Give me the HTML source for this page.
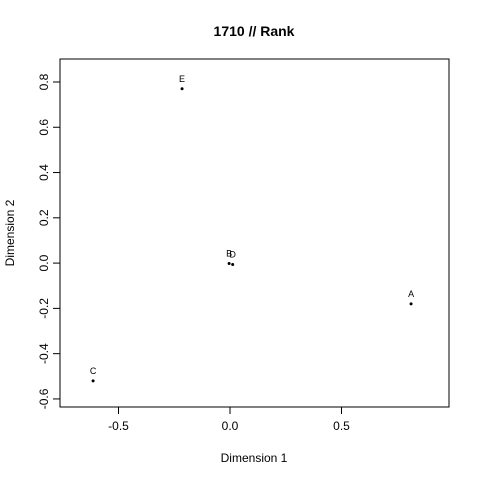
<!DOCTYPE html>
<html><head><meta charset="utf-8"><style>body{margin:0;background:#fff}svg{display:block}text{font-family:"Liberation Sans",Arial,sans-serif}</style></head>
<body>
<svg id="c" width="480" height="480"></svg>
<script>
const labels=["A","B","C","D","E"];
const xVals=[0.812,-0.004,-0.614,0.012,-0.215];
const yVals=[-0.18,-0.002,-0.52,-0.006,0.77];
const xTicks=[-0.5,0,0.5];
const xTickLabels=["-0.5","0.0","0.5"];
const yTicks=[-0.6,-0.4,-0.2,0,0.2,0.4,0.6,0.8];
const yTickLabels=["-0.6","-0.4","-0.2","0.0","0.2","0.4","0.6","0.8"];
const ns="http://www.w3.org/2000/svg",svg=document.getElementById('c');
const X=v=>230+v*223, Y=v=>263.1-v*226.4;
function mk(t,a,txt){const e=document.createElementNS(ns,t);for(const k in a)e.setAttribute(k,a[k]);if(txt!=null)e.textContent=txt;svg.appendChild(e);return e;}
let e=mk('rect',{x:60,y:59,width:389,height:348,fill:'none',stroke:'#000'});


e=mk('text',{x:254,y:36,'text-anchor':'middle','font-size':14,'font-weight':'bold'},'1710 // Rank');


e=mk('text',{x:254,y:462,'text-anchor':'middle','font-size':12},'Dimension 1');


e=mk('text',{x:14,y:233,'text-anchor':'middle','font-size':12,transform:'rotate(-90 14 233)'},'Dimension 2');


mk('line',{x1:X(xTicks[0]),x2:X(xTicks[xTicks.length-1]),y1:407,y2:407,stroke:'#000'});
xTicks.forEach((t,i)=>{mk('line',{x1:X(t),x2:X(t),y1:407,y2:414,stroke:'#000'});
e=mk('text',{x:X(t),y:430,'text-anchor':'middle','font-size':12},xTickLabels[i]);

});
mk('line',{x1:60,x2:60,y1:Y(yTicks[0]),y2:Y(yTicks[yTicks.length-1]),stroke:'#000'});
yTicks.forEach((t,i)=>{mk('line',{x1:53,x2:60,y1:Y(t),y2:Y(t),stroke:'#000'});
e=mk('text',{x:45,y:Y(t),'text-anchor':'middle','font-size':12,transform:`rotate(-90 45 ${Y(t)})`,'dominant-baseline':'middle'},yTickLabels[i]);

});
labels.forEach((l,i)=>{e=mk('circle',{cx:X(xVals[i]),cy:Y(yVals[i]),r:1.5,fill:'#000'});


e=mk('text',{x:X(xVals[i]),y:Y(yVals[i])-7,'text-anchor':'middle','font-size':9},l);

});
</script>
</body></html>
